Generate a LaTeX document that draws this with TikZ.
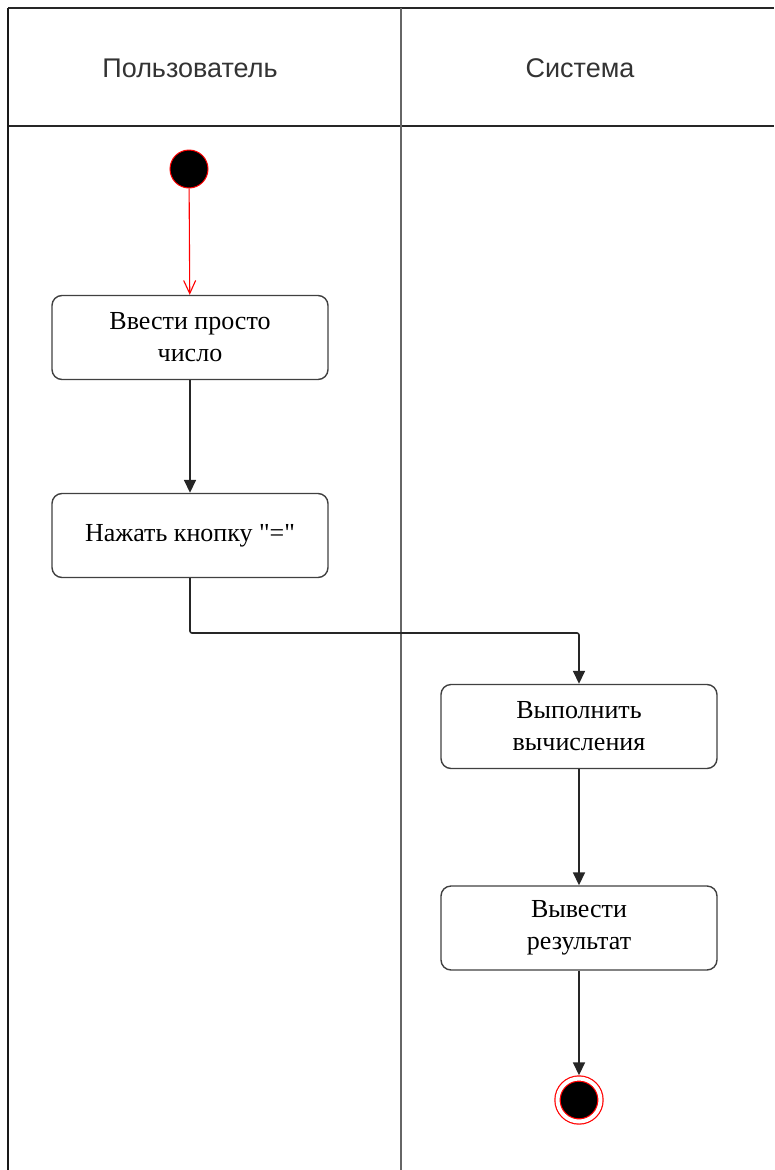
\documentclass[tikz,border=0pt]{standalone}
\usepackage{fontspec}
\setmainfont{Liberation Serif}
\newfontfamily\lanefont{Liberation Sans}
\usetikzlibrary{arrows.meta}
\usetikzlibrary{calc}
\tikzstyle{action}=[rectangle,rounded corners=10pt,draw=black!75,line width=1.4pt,minimum width=276pt,minimum height=84pt,inner sep=0pt,align=center,font=\fontsize{26}{32}\selectfont]
\tikzstyle{initial}=[circle,fill=black,draw=red,line width=1pt,minimum size=38pt,inner sep=0pt]
\tikzstyle{final}=[circle,fill=black,draw=red,line width=1.2pt,double=white,double distance=4pt,minimum size=43pt,inner sep=0pt,outer sep=3.2pt]
\tikzstyle{lane}=[font=\lanefont\fontsize{27}{30}\selectfont,text=black!80]
\tikzstyle{flow}=[-{Triangle[length=13pt,width=12pt]},line width=1.6pt,draw=black!85]

\begin{document}
\begin{tikzpicture}[x=1pt,y=-1pt]

   \useasboundingbox (0,0) rectangle (774,1170);

%  swimlanes
   \draw[line width=1.6pt, black!85] (8,8) -- (774,8);
   \draw[line width=1.6pt, black!85] (8,126) -- (774,126);
   \draw[line width=1.6pt, black!90] (8,8) -- (8,1170);
   \draw[line width=1.6pt, black!60] (401,8) -- (401,1170);

   \node[lane] (user) at (190,68) {Пользователь};
   \node[lane] (system) at (580,68) {Система};

   \node[initial] (start) at (189,169) {};
   \node[final] (finish) at (579,1100) {};

    \foreach \pos/\name/\text in {{(190,337.5)/enter/{Ввести просто\\число}}, {(190,535.5)/press/{Нажать кнопку \textquotedbl=\textquotedbl}}, {(579,726.5)/calc/{Выполнить\\вычисления}}, {(579,928)/output/{Вывести\\результат}}}
        \node[action] (\name) at \pos {\text};

    \foreach \source/\dest in {enter/press, calc/output, output/finish}
                \draw[flow] (\source) -- (\dest);

\draw[-{Straight Barb[length=13pt,width=12pt]}, line width=1.1pt, red] (start) --  (enter);
\draw[flow, rounded corners=2pt] (press.south) -- (press.south |- 0,633) -| (calc.north);

\end{tikzpicture}
\end{document}
